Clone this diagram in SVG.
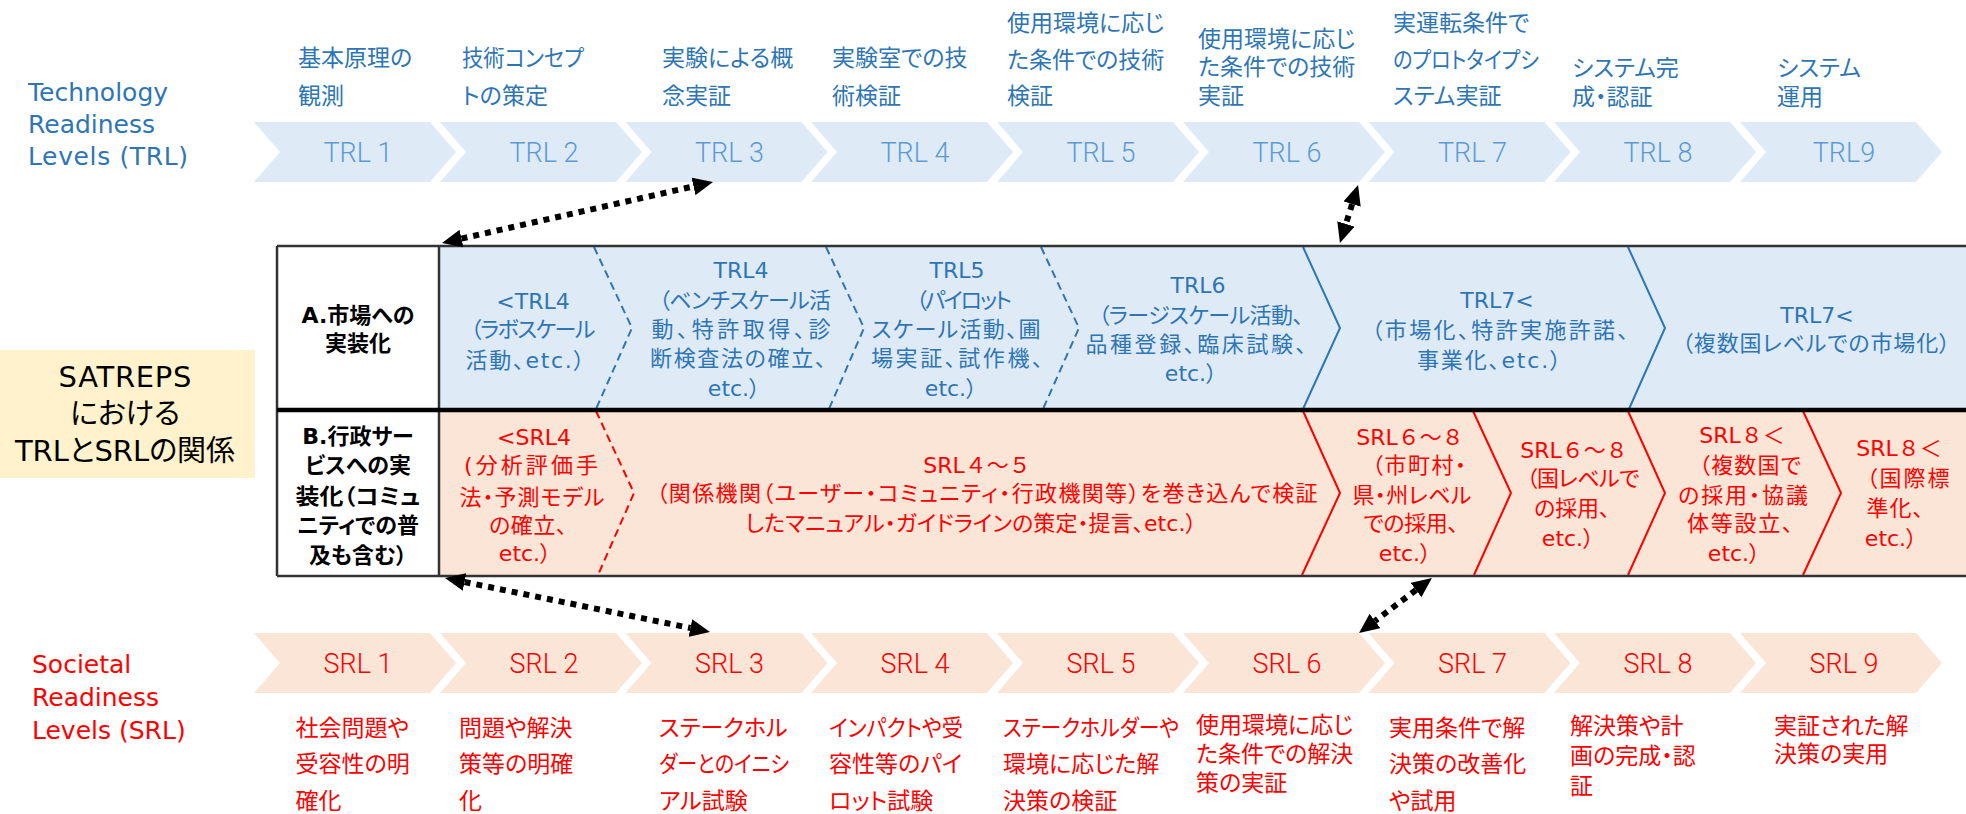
<svg xmlns="http://www.w3.org/2000/svg" xmlns:xlink="http://www.w3.org/1999/xlink" width="1966" height="814" viewBox="0 0 1966 814">
<style>
.trlc{fill:#deebf7}
.srlc{fill:#fbe5d6}
.cl{font-family:Roboto,"Noto Sans",sans-serif;font-weight:300;font-size:27px;text-anchor:middle}
.tl{fill:#5b9bd5}
.sl{fill:#ff0000}
.desc{font-family:"Noto Sans CJK JP",sans-serif;font-size:23px;font-feature-settings:"palt"}
.blue{fill:#2e75b6}
.red{fill:#ff0000}
.tb{font-family:"DejaVu Sans","Noto Sans CJK JP",sans-serif;font-size:22px;font-feature-settings:"palt";text-anchor:middle}
.np{font-feature-settings:normal}
.hd{font-family:"DejaVu Sans","Noto Sans CJK JP",sans-serif;font-size:22px;font-weight:bold;font-feature-settings:"palt";text-anchor:middle;fill:#000}
.side{font-family:"DejaVu Sans","Noto Sans CJK JP",sans-serif;font-size:25px}
.sat{font-family:"DejaVu Sans","Noto Sans CJK JP",sans-serif;font-size:29px;text-anchor:middle;fill:#000;font-feature-settings:"palt"}
.dashb{fill:none;stroke:#2e75b6;stroke-width:2;stroke-dasharray:8 5}
.solb{fill:none;stroke:#2e75b6;stroke-width:2}
.dashr{fill:none;stroke:#ff0000;stroke-width:2;stroke-dasharray:8 5}
.solr{fill:none;stroke:#ff0000;stroke-width:2}
.arr{fill:none;stroke:#000;stroke-width:6;stroke-dasharray:6 6;marker-start:url(#ah);marker-end:url(#ah)}
.bd{fill:none;stroke:#333;stroke-width:2.5}
</style>
<defs>
<path id="chev" d="M0,0 H176 L202,30 L176,60 H0 L26,30 Z"/>
<marker id="ah" viewBox="0 0 20 18" refX="0" refY="9" markerWidth="20" markerHeight="18" markerUnits="userSpaceOnUse" orient="auto-start-reverse">
<path d="M0,0 L20,9 L0,18 Z" fill="#000"/>
</marker>
</defs>
<rect width="1966" height="814" fill="#fff"/>

<!-- Left titles -->
<g id="title-trl" class="side blue">
<text x="28" y="101">Technology</text>
<text x="28" y="133">Readiness</text>
<text x="28" y="165" textLength="160">Levels (TRL)</text>
</g>
<g id="title-srl" class="side red">
<text x="32" y="673">Societal</text>
<text x="32" y="706">Readiness</text>
<text x="32" y="739">Levels (SRL)</text>
</g>
<g id="satreps">
<rect x="0" y="350" width="255" height="128" fill="#fff2cc"/>
<text class="sat" x="125" y="387" textLength="133">SATREPS</text>
<text class="sat" x="125" y="424">における</text>
<text class="sat" x="125" y="461">TRLとSRLの関係</text>
</g>

<!-- TRL chevrons -->
<g id="trl1"><use href="#chev" x="254" y="122" class="trlc"/><text class="cl tl" x="358" y="162">TRL 1</text></g>
<g id="trl2"><use href="#chev" x="440" y="122" class="trlc"/><text class="cl tl" x="544" y="162">TRL 2</text></g>
<g id="trl3"><use href="#chev" x="625.5" y="122" class="trlc"/><text class="cl tl" x="729.5" y="162">TRL 3</text></g>
<g id="trl4"><use href="#chev" x="811" y="122" class="trlc"/><text class="cl tl" x="915" y="162">TRL 4</text></g>
<g id="trl5"><use href="#chev" x="997" y="122" class="trlc"/><text class="cl tl" x="1101" y="162">TRL 5</text></g>
<g id="trl6"><use href="#chev" x="1183" y="122" class="trlc"/><text class="cl tl" x="1287" y="162">TRL 6</text></g>
<g id="trl7"><use href="#chev" x="1368.5" y="122" class="trlc"/><text class="cl tl" x="1472.5" y="162">TRL 7</text></g>
<g id="trl8"><use href="#chev" x="1554" y="122" class="trlc"/><text class="cl tl" x="1658" y="162">TRL 8</text></g>
<g id="trl9"><use href="#chev" x="1740" y="122" class="trlc"/><text class="cl tl" x="1844" y="162">TRL9</text></g>

<!-- TRL descriptions -->
<g id="trl-desc" class="desc blue">
<text x="298" y="66">基本原理の</text><text x="298" y="103.5">観測</text>
<text x="462" y="66" textLength="122" lengthAdjust="spacingAndGlyphs">技術コンセプ</text><text x="462" y="103.5">トの策定</text>
<text x="662" y="66">実験による概</text><text x="662" y="103.5">念実証</text>
<text x="832" y="66">実験室での技</text><text x="832" y="103.5">術検証</text>
<text x="1007" y="31">使用環境に応じ</text><text x="1007" y="67.5">た条件での技術</text><text x="1007" y="103.5">検証</text>
<text x="1198" y="47">使用環境に応じ</text><text x="1198" y="75">た条件での技術</text><text x="1198" y="103.5">実証</text>
<text x="1393" y="31">実運転条件で</text><text x="1393" y="67.5" textLength="146" lengthAdjust="spacingAndGlyphs">のプロトタイプシ</text><text x="1393" y="103.5">ステム実証</text>
<text x="1572" y="75.5">システム完</text><text x="1572" y="104.5">成・認証</text>
<text x="1777" y="75.5">システム</text><text x="1777" y="104.5">運用</text>
</g>

<!-- SRL chevrons -->
<g id="srl1"><use href="#chev" x="254" y="633" class="srlc"/><text class="cl sl" x="358" y="673">SRL 1</text></g>
<g id="srl2"><use href="#chev" x="440" y="633" class="srlc"/><text class="cl sl" x="544" y="673">SRL 2</text></g>
<g id="srl3"><use href="#chev" x="625.5" y="633" class="srlc"/><text class="cl sl" x="729.5" y="673">SRL 3</text></g>
<g id="srl4"><use href="#chev" x="811" y="633" class="srlc"/><text class="cl sl" x="915" y="673">SRL 4</text></g>
<g id="srl5"><use href="#chev" x="997" y="633" class="srlc"/><text class="cl sl" x="1101" y="673">SRL 5</text></g>
<g id="srl6"><use href="#chev" x="1183" y="633" class="srlc"/><text class="cl sl" x="1287" y="673">SRL 6</text></g>
<g id="srl7"><use href="#chev" x="1368.5" y="633" class="srlc"/><text class="cl sl" x="1472.5" y="673">SRL 7</text></g>
<g id="srl8"><use href="#chev" x="1554" y="633" class="srlc"/><text class="cl sl" x="1658" y="673">SRL 8</text></g>
<g id="srl9"><use href="#chev" x="1740" y="633" class="srlc"/><text class="cl sl" x="1844" y="673">SRL 9</text></g>

<!-- SRL descriptions -->
<g id="srl-desc" class="desc red">
<text x="295.5" y="735.5">社会問題や</text><text x="295.5" y="771.5">受容性の明</text><text x="295.5" y="808.5">確化</text>
<text x="459" y="735.5">問題や解決</text><text x="459" y="771.5">策等の明確</text><text x="459" y="808.5">化</text>
<text x="659" y="735.5">ステークホル</text><text x="659" y="771.5" textLength="130" lengthAdjust="spacingAndGlyphs">ダーとのイニシ</text><text x="659" y="808.5">アル試験</text>
<text x="829" y="735.5" textLength="134" lengthAdjust="spacingAndGlyphs">インパクトや受</text><text x="829" y="771.5">容性等のパイ</text><text x="829" y="808.5">ロット試験</text>
<text x="1003" y="735.5" textLength="176" lengthAdjust="spacingAndGlyphs">ステークホルダーや</text><text x="1003" y="771.5">環境に応じた解</text><text x="1003" y="808.5">決策の検証</text>
<text x="1196" y="732.5">使用環境に応じ</text><text x="1196" y="761.5">た条件での解決</text><text x="1196" y="790.5">策の実証</text>
<text x="1389" y="735.5">実用条件で解</text><text x="1389" y="771.5">決策の改善化</text><text x="1389" y="808.5">や試用</text>
<text x="1570" y="733.5">解決策や計</text><text x="1570" y="764">画の完成・認</text><text x="1570" y="793.5">証</text>
<text x="1774" y="733.5">実証された解</text><text x="1774" y="761.5">決策の実用</text>
</g>

<!-- Table backgrounds -->
<g id="table">
<rect x="277" y="246" width="162" height="330" fill="#fff"/>
<rect x="439" y="246" width="1527" height="164" fill="#deebf7"/>
<rect x="439" y="410" width="1527" height="166" fill="#fbe5d6"/>
<polyline class="dashb" points="594,247 632,328 596,409"/>
<polyline class="dashb" points="826,247 864,328 829,409"/>
<polyline class="dashb" points="1041,247 1079,328 1043,409"/>
<polyline class="solb" points="1303,247 1340,328 1303,409"/>
<polyline class="solb" points="1628,247 1665,328 1629,409"/>
<polyline class="dashr" points="596,411 634,493 598,575"/>
<polyline class="solr" points="1303,411 1340,493 1302,575"/>
<polyline class="solr" points="1473,411 1511,493 1474,575"/>
<polyline class="solr" points="1628,411 1665,493 1628,575"/>
<polyline class="solr" points="1803,411 1841,493 1803,575"/>
<path class="bd" d="M277,246 H1966 M277,576 H1966 M277,246 V576 M439,246 V576"/>
<path d="M277,410 H1966" stroke="#000" stroke-width="4.5"/>
</g>

<g id="row-a-label">
<text class="hd" x="358" y="323">A.市場への</text>
<text class="hd" x="358" y="351">実装化</text>
</g>
<g id="row-b-label">
<text class="hd" x="358" y="444">B.行政サー</text>
<text class="hd" x="358" y="473">ビスへの実</text>
<text class="hd np" x="358" y="504" textLength="125" lengthAdjust="spacingAndGlyphs">装化（コミュ</text>
<text class="hd" x="358" y="533">ニティでの普</text>
<text class="hd" x="358" y="563">及も含む）</text>
</g>

<!-- Row A cells -->
<g id="a1" class="tb blue">
<text x="533" y="309">&lt;TRL4</text>
<text x="533" y="337" textLength="125">（ラボスケール</text>
<text x="525" y="368" textLength="119">活動、etc.）</text>
</g>
<g id="a2" class="tb blue">
<text x="741" y="278">TRL4</text>
<text x="745" y="308" textLength="172">（ベンチスケール活</text>
<text x="741" y="337" textLength="179">動、特許取得、診</text>
<text x="738" y="366" textLength="176">断検査法の確立、</text>
<text x="734" y="396">etc.）</text>
</g>
<g id="a3" class="tb blue">
<text x="957" y="278">TRL5</text>
<text x="964" y="308" textLength="96">（パイロット</text>
<text x="956" y="337" textLength="169">スケール活動、圃</text>
<text x="957" y="366" textLength="172">場実証、試作機、</text>
<text x="951" y="396">etc.）</text>
</g>
<g id="a4" class="tb blue">
<text x="1198" y="293">TRL6</text>
<text x="1201" y="323" textLength="205">（ラージスケール活動、</text>
<text x="1196" y="352" textLength="221">品種登録、臨床試験、</text>
<text x="1191" y="381">etc.）</text>
</g>
<g id="a5" class="tb blue">
<text x="1497" y="308">TRL7&lt;</text>
<text x="1500" y="338" textLength="257">（市場化、特許実施許諾、</text>
<text x="1489" y="368" textLength="144">事業化、etc.）</text>
</g>
<g id="a6" class="tb blue">
<text x="1817" y="323">TRL7&lt;</text>
<text x="1816" y="351" textLength="268">（複数国レベルでの市場化）</text>
</g>

<!-- Row B cells -->
<g id="b1" class="tb red">
<text x="534" y="445">&lt;SRL4</text>
<text x="531" y="473" textLength="134">(分析評価手</text>
<text x="532" y="505" textLength="145">法・予測モデル</text>
<text x="528" y="533" textLength="78">の確立、</text>
<text x="525" y="561">etc.）</text>
</g>
<g id="b2" class="tb red">
<text class="np" x="977" y="473">SRL４～５</text>
<text x="987" y="501" textLength="661">（関係機関（ユーザー・コミュニティ・行政機関等）を巻き込んで検証</text>
<text x="971" y="531" textLength="451">したマニュアル・ガイドラインの策定・提言、etc.）</text>
</g>
<g id="b3" class="tb red">
<text class="np" x="1410" y="445">SRL６～８</text>
<text x="1419" y="473" textLength="94">（市町村・</text>
<text x="1412" y="503" textLength="119">県・州レベル</text>
<text x="1411" y="531" textLength="95">での採用、</text>
<text x="1405" y="561">etc.）</text>
</g>
<g id="b4" class="tb red">
<text class="np" x="1574" y="458">SRL６～８</text>
<text x="1583" y="486" textLength="113">（国レベルで</text>
<text x="1572" y="516" textLength="76">の採用、</text>
<text x="1568" y="546">etc.）</text>
</g>
<g id="b5" class="tb red">
<text class="np" x="1742" y="443">SRL８＜</text>
<text x="1750" y="473" textLength="102">（複数国で</text>
<text x="1743" y="503" textLength="130">の採用・協議</text>
<text x="1740" y="531" textLength="106">体等設立、</text>
<text x="1734" y="561">etc.）</text>
</g>
<g id="b6" class="tb red">
<text class="np" x="1899" y="456">SRL８＜</text>
<text x="1908" y="486" textLength="83">（国際標</text>
<text x="1895" y="516" textLength="57">準化、</text>
<text x="1891" y="546">etc.）</text>
</g>

<!-- Connectors -->
<g id="connectors">
<line class="arr" x1="461.5" y1="238.6" x2="693.5" y2="186.4"/>
<line class="arr" x1="1352.1" y1="204.1" x2="1345.9" y2="223.9"/>
<line class="arr" x1="464.6" y1="582" x2="690.4" y2="628"/>
<line class="arr" x1="1416" y1="590" x2="1375" y2="621"/>
</g>
</svg>
